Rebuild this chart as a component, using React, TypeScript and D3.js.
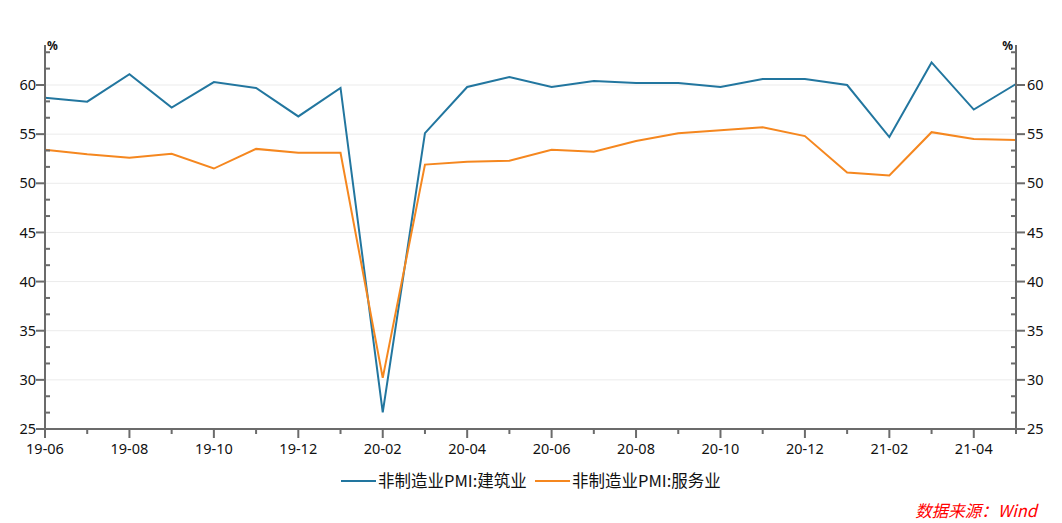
import React from "react";
import * as d3 from "d3";

const months = [
  "19-06","19-07","19-08","19-09","19-10","19-11","19-12",
  "20-01","20-02","20-03","20-04","20-05","20-06","20-07","20-08","20-09","20-10","20-11","20-12",
  "21-01","21-02","21-03","21-04","21-05",
];

const construction = [
  58.7, 58.3, 61.1, 57.7, 60.3, 59.7, 56.8,
  59.7, 26.7, 55.1, 59.8, 60.8, 59.8, 60.4, 60.2, 60.2, 59.8, 60.6, 60.6,
  60.0, 54.7, 62.3, 57.5, 60.1,
];

const services = [
  53.4, 52.95, 52.6, 53.0, 51.5, 53.5, 53.1,
  53.1, 30.2, 51.9, 52.2, 52.3, 53.4, 53.2, 54.3, 55.1, 55.4, 55.7, 54.8,
  51.1, 50.8, 55.2, 54.5, 54.4,
];

const yMajorTicks = [25, 30, 35, 40, 45, 50, 55, 60];
const seriesNames = ["非制造业PMI:建筑业", "非制造业PMI:服务业"];
const seriesColors = ["#22769f", "#f5871f"];
const sourceText = "数据来源：Wind";

export default function App() {
  const W = 1062, H = 523;
  const left = 45, right = 1016, top = 45, bottom = 429;
  const x = d3.scaleLinear().domain([0, months.length - 1]).range([left, right]);
  const y = d3.scaleLinear().domain([25, 60]).range([bottom, 85]);
  const yTopVal = y.invert(top);
  const axisColor = "#6b6b6b";
  const font = "'Noto Sans', 'Noto Sans CJK SC', sans-serif";

  const minorTicks: number[] = [];
  for (let v = 25; v <= yTopVal + 0.001; v += 5 / 3) {
    const r = Math.round(v * 1000) / 1000;
    if (!yMajorTicks.some((m) => Math.abs(m - r) < 0.01)) minorTicks.push(r);
  }

  const line = d3
    .line<number>()
    .x((_, i) => x(i))
    .y((d) => y(d));

  const series = [construction, services];

  return (
    <svg
      width={W}
      height={H}
      style={{ position: "absolute", left: 0, top: 0, background: "#fff" }}
    >
      {yMajorTicks
        .filter((v) => v > 25)
        .map((v) => (
          <line key={"g" + v} x1={left} x2={right} y1={y(v)} y2={y(v)} stroke="#ebebeb" strokeWidth={1} />
        ))}

      {series.map((s, i) => (
        <path key={"s" + i} d={line(s) || ""} fill="none" stroke={seriesColors[i]} strokeWidth={2} />
      ))}

      <line x1={left} x2={left} y1={top} y2={bottom} stroke={axisColor} strokeWidth={2} />
      {yMajorTicks.map((v) => (
        <g key={"l" + v}>
          <line x1={left - 9} x2={left} y1={y(v)} y2={y(v)} stroke={axisColor} strokeWidth={2} />
          <text x={left - 9} y={y(v)} dy="0.35em" textAnchor="end" fontSize={14.5} fontFamily={font} fill="#111">
            {v}
          </text>
        </g>
      ))}
      {minorTicks.map((v) => (
        <line key={"lm" + v} x1={left} x2={left + 5} y1={y(v)} y2={y(v)} stroke={axisColor} strokeWidth={2} />
      ))}
      <text x={left + 2} y={top + 5} fontSize={12} fontWeight="bold" fontFamily={font} fill="#111">%</text>

      <line x1={right} x2={right} y1={top} y2={bottom} stroke={axisColor} strokeWidth={2} />
      {yMajorTicks.map((v) => (
        <g key={"r" + v}>
          <line x1={right} x2={right + 9} y1={y(v)} y2={y(v)} stroke={axisColor} strokeWidth={2} />
          <text x={right + 11} y={y(v)} dy="0.35em" textAnchor="start" fontSize={14.5} fontFamily={font} fill="#111">
            {v}
          </text>
        </g>
      ))}
      {minorTicks.map((v) => (
        <line key={"rm" + v} x1={right - 5} x2={right} y1={y(v)} y2={y(v)} stroke={axisColor} strokeWidth={2} />
      ))}
      <text x={right - 3} y={top + 5} textAnchor="end" fontSize={12} fontWeight="bold" fontFamily={font} fill="#111">%</text>

      <line x1={left - 1} x2={right + 1} y1={bottom} y2={bottom} stroke={axisColor} strokeWidth={2} />
      {months.map((m, i) => {
        const major = i % 2 === 0;
        return (
          <g key={"x" + m}>
            <line x1={x(i)} x2={x(i)} y1={bottom} y2={bottom + (major ? 9 : 5)} stroke={axisColor} strokeWidth={2} />
            {major && (
              <text x={x(i)} y={449} dy="0.35em" textAnchor="middle" fontSize={14.5} fontFamily={font} fill="#111">
                {m}
              </text>
            )}
          </g>
        );
      })}

      {seriesNames.map((n, i) => {
        const lx = i === 0 ? 341 : 535;
        return (
          <g key={"lg" + i}>
            <line x1={lx} x2={lx + 35} y1={481} y2={481} stroke={seriesColors[i]} strokeWidth={2} />
            <text x={lx + 37} y={481} dy="0.35em" fontSize={16.5} fontFamily="'Noto Sans CJK SC', sans-serif" fill="#111">
              {n}
            </text>
          </g>
        );
      })}

      <text x={1037} y={511} dy="0.35em" textAnchor="end" fontSize={16.5} fontStyle="italic" fontFamily="'Noto Sans CJK SC', sans-serif" fill="#ff0000">
        {sourceText}
      </text>
    </svg>
  );
}
